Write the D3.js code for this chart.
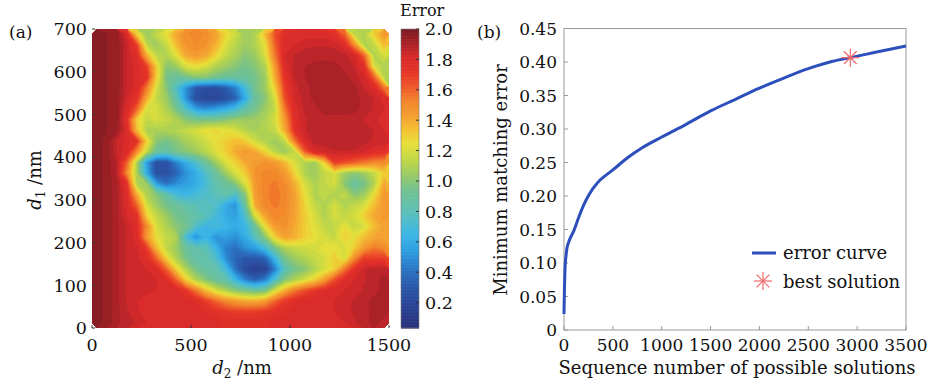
<!DOCTYPE html>
<html><head><meta charset="utf-8">
<script src="https://cdn.jsdelivr.net/npm/d3@7/dist/d3.min.js"></script>
<style>
body{margin:0;background:#fff}
svg{display:block}
text{font-family:"DejaVu Serif",serif;fill:#111}
</style>
</head><body>
<svg id="c" width="931" height="386"></svg>
<script>
// ---------- DATA ----------
// Panel (a): error map, rows from d1 = 687.5 nm (top) down to 12.5 nm (bottom),
// columns d2 = 25, 75, ..., 1475 nm (50 nm bins)
const d2Range = [0, 1500];
const d1Range = [0, 700];
const d2Ticks = [0, 500, 1000, 1500];
const d1Ticks = [0, 100, 200, 300, 400, 500, 600, 700];
const colorTicks = [0.2, 0.4, 0.6, 0.8, 1.0, 1.2, 1.4, 1.6, 1.8, 2.0];
const colorRange = [0.033, 2.0];
const errorGrid = [
[1.97,1.96,1.95,1.80,1.30,1.05,1.15,1.25,1.40,1.50, 1.52,1.50,1.42,1.28,1.18,1.05,1.10,1.35,1.65,1.78, 1.80,1.80,1.80,1.80,1.75,1.60,1.15,1.10,1.30,1.45],
[1.97,1.96,1.95,1.85,1.70,1.15,1.05,1.15,1.35,1.47, 1.50,1.47,1.38,1.22,1.12,1.05,1.10,1.25,1.60,1.80, 1.82,1.84,1.85,1.85,1.84,1.78,1.50,1.10,1.15,1.35],
[1.97,1.96,1.95,1.85,1.78,1.40,1.15,1.10,1.22,1.40, 1.45,1.40,1.28,1.15,1.08,1.00,1.05,1.20,1.55,1.82, 1.86,1.88,1.88,1.88,1.88,1.87,1.82,1.60,1.10,1.20],
[1.97,1.96,1.95,1.85,1.80,1.70,1.30,1.00,1.05,1.20, 1.25,1.20,1.10,1.05,1.00,0.95,1.00,1.10,1.45,1.80, 1.87,1.89,1.90,1.90,1.90,1.88,1.85,1.75,1.20,1.10],
[1.97,1.96,1.95,1.85,1.80,1.75,1.30,0.95,0.90,0.95, 1.00,1.00,0.95,0.90,0.90,0.90,0.95,1.05,1.40,1.75, 1.86,1.89,1.90,1.90,1.90,1.90,1.87,1.82,1.60,1.10],
[1.97,1.96,1.95,1.85,1.80,1.55,1.20,1.00,0.75,0.50, 0.30,0.25,0.25,0.32,0.45,0.70,0.95,1.05,1.30,1.70, 1.84,1.88,1.90,1.90,1.90,1.90,1.90,1.85,1.80,1.55],
[1.97,1.96,1.95,1.83,1.75,1.40,1.15,1.05,0.85,0.50, 0.25,0.20,0.20,0.25,0.35,0.60,0.90,1.00,1.20,1.65, 1.82,1.87,1.90,1.90,1.90,1.90,1.90,1.88,1.85,1.80],
[1.97,1.96,1.95,1.80,1.60,1.20,1.20,1.10,0.95,0.75, 0.55,0.50,0.55,0.60,0.70,0.85,0.95,1.05,1.15,1.55, 1.80,1.86,1.88,1.90,1.90,1.90,1.90,1.88,1.85,1.82],
[1.97,1.96,1.95,1.75,1.30,1.15,1.20,1.15,1.10,1.00, 0.95,0.95,0.95,1.00,1.05,1.05,1.05,1.10,1.20,1.45, 1.78,1.85,1.87,1.88,1.88,1.88,1.87,1.85,1.83,1.80],
[1.97,1.96,1.93,1.80,1.35,1.10,1.08,1.10,1.12,1.15, 1.20,1.25,1.27,1.25,1.20,1.12,1.08,1.10,1.15,1.40, 1.75,1.85,1.88,1.88,1.88,1.88,1.88,1.88,1.85,1.82],
[1.97,1.95,1.85,1.80,1.75,1.30,1.00,0.95,1.00,1.08, 1.12,1.18,1.25,1.30,1.35,1.30,1.18,1.10,1.05,1.15, 1.55,1.80,1.87,1.88,1.88,1.88,1.88,1.87,1.85,1.85],
[1.97,1.95,1.85,1.80,1.50,1.15,0.90,0.85,0.95,1.00, 1.05,1.12,1.22,1.30,1.40,1.45,1.40,1.28,1.12,1.05, 1.15,1.60,1.80,1.83,1.85,1.85,1.85,1.82,1.78,1.75],
[1.97,1.95,1.88,1.60,1.10,0.55,0.25,0.25,0.45,0.60, 0.75,0.90,1.05,1.20,1.30,1.40,1.45,1.48,1.45,1.35, 1.20,1.10,1.05,1.30,1.70,1.65,1.60,1.55,1.50,1.50],
[1.97,1.95,1.88,1.50,1.10,0.60,0.25,0.28,0.35,0.50, 0.60,0.75,0.90,1.05,1.20,1.30,1.48,1.52,1.52,1.45, 1.28,1.10,1.05,1.15,1.20,1.05,1.00,1.05,1.15,1.30],
[1.97,1.95,1.90,1.75,1.10,1.05,0.55,0.40,0.50,0.55, 0.60,0.70,0.85,0.90,1.00,1.20,1.45,1.53,1.55,1.50, 1.38,1.20,1.10,1.15,1.20,1.00,0.90,0.95,1.10,1.40],
[1.97,1.95,1.90,1.78,1.40,1.10,1.00,0.85,0.70,0.65, 0.70,0.75,0.80,0.85,0.75,1.00,1.45,1.53,1.56,1.52, 1.42,1.25,1.10,1.15,1.10,1.15,1.00,1.05,1.25,1.45],
[1.97,1.95,1.90,1.80,1.60,1.20,1.05,0.95,0.90,0.85, 0.80,0.80,0.75,0.60,0.50,0.90,1.40,1.52,1.55,1.52, 1.42,1.28,1.15,1.10,1.20,1.10,1.15,1.20,1.35,1.45],
[1.97,1.95,1.90,1.82,1.75,1.30,1.15,1.05,0.95,0.90, 0.85,0.80,0.70,0.60,0.55,0.75,1.20,1.42,1.52,1.50, 1.42,1.30,1.20,1.10,1.20,1.15,1.20,1.30,1.40,1.45],
[1.97,1.95,1.90,1.85,1.78,1.50,1.20,1.10,1.00,0.95, 0.75,0.65,0.70,0.65,0.60,0.65,0.90,1.25,1.45,1.48, 1.40,1.30,1.22,1.15,1.15,1.25,1.15,1.20,1.35,1.42],
[1.97,1.95,1.90,1.85,1.80,1.45,1.25,1.15,1.10,0.70, 0.50,0.65,0.50,0.55,0.50,0.60,0.80,1.00,1.30,1.42, 1.38,1.30,1.25,1.20,1.15,1.30,1.25,1.35,1.40,1.42],
[1.97,1.95,1.90,1.85,1.82,1.70,1.35,1.15,1.05,0.90, 0.85,0.80,0.65,0.45,0.40,0.50,0.55,0.70,0.95,1.10, 1.15,1.18,1.20,1.25,1.25,1.20,1.30,1.45,1.55,1.50],
[1.97,1.95,1.90,1.85,1.83,1.78,1.60,1.30,1.10,0.95, 0.85,0.85,0.75,0.50,0.35,0.30,0.30,0.35,0.65,0.95, 1.05,1.10,1.15,1.20,1.30,1.20,1.50,1.70,1.70,1.70],
[1.97,1.95,1.90,1.85,1.84,1.82,1.78,1.60,1.30,1.10, 0.95,0.88,0.85,0.70,0.40,0.22,0.15,0.18,0.45,0.80, 0.95,1.00,1.10,1.20,1.30,1.55,1.75,1.85,1.87,1.88],
[1.97,1.95,1.90,1.85,1.84,1.83,1.82,1.78,1.60,1.30, 1.10,1.00,0.90,0.85,0.65,0.45,0.35,0.45,0.75,1.00, 1.10,1.20,1.30,1.45,1.65,1.78,1.82,1.85,1.88,1.90],
[1.97,1.95,1.90,1.85,1.83,1.83,1.82,1.82,1.80,1.72, 1.55,1.35,1.20,1.10,1.00,0.95,0.90,0.95,1.20,1.40, 1.55,1.65,1.72,1.78,1.80,1.82,1.84,1.86,1.88,1.90],
[1.97,1.95,1.90,1.85,1.82,1.80,1.80,1.80,1.80,1.80, 1.78,1.70,1.60,1.50,1.45,1.40,1.40,1.45,1.60,1.72, 1.78,1.80,1.80,1.80,1.82,1.84,1.86,1.88,1.90,1.90],
[1.97,1.95,1.90,1.86,1.83,1.80,1.80,1.80,1.80,1.80, 1.80,1.78,1.75,1.72,1.70,1.70,1.70,1.72,1.75,1.78, 1.80,1.80,1.80,1.80,1.82,1.84,1.86,1.88,1.90,1.90],
[1.97,1.95,1.90,1.87,1.85,1.82,1.80,1.80,1.80,1.80, 1.80,1.80,1.80,1.78,1.78,1.78,1.78,1.78,1.80,1.80, 1.80,1.80,1.80,1.80,1.80,1.82,1.85,1.88,1.90,1.88]
];

// Panel (b): minimum matching error vs sequence number
const seqNumber = [0, 5, 10, 20, 30, 50, 100, 150, 200, 260, 350, 420, 500, 650, 800, 1000, 1250, 1500, 1750, 2000, 2250, 2500, 2750, 2930, 3200, 3500];
const minError  = [0.024, 0.065, 0.09, 0.11, 0.122, 0.132, 0.148, 0.168, 0.186, 0.203, 0.221, 0.23, 0.239, 0.257, 0.272, 0.288, 0.307, 0.327, 0.344, 0.361, 0.376, 0.390, 0.401, 0.4065, 0.415, 0.424];
const bestSolution = {seq: 2930, err: 0.4065};
const seqTicks = [0, 500, 1000, 1500, 2000, 2500, 3000, 3500];
const errTicks = [0, 0.05, 0.10, 0.15, 0.20, 0.25, 0.30, 0.35, 0.40, 0.45];
const errTickLabels = ["0", "0.05", "0.10", "0.15", "0.20", "0.25", "0.30", "0.35", "0.40", "0.45"];

// ---------- COLOUR MAP ----------
const cmapStops  = [0.033, 0.18, 0.32, 0.45, 0.55, 0.65, 0.8, 0.95, 1.05, 1.15, 1.25, 1.35, 1.42, 1.52, 1.62, 1.72, 1.82, 1.9, 2.0];
const cmapColors = ["#2a2f78","#2b4496","#2b5aab","#2b7fcb","#2fa0e0","#3cb6e6","#5cc0b8","#74c28e","#9ccb62","#c3d845","#e8e03a","#f4bd32","#f4a232","#f2882c","#ee5a2a","#e63428","#d82a2a","#ae2328","#7a1c22"];
const cmap = d3.scaleLinear().domain(cmapStops).range(cmapColors).interpolate(d3.interpolateRgb).clamp(true);

const svg = d3.select("#c");

// ---------- PANEL (a) ----------
const xH = d3.scaleLinear().domain(d2Range).range([92, 389]);
const yH = d3.scaleLinear().domain(d1Range).range([328, 29]);
const nx = errorGrid[0].length, ny = errorGrid.length;
const step = 0.035;
const thresholds = d3.range(0, 2.0, step);
const contours = d3.contours().size([nx, ny]).thresholds(thresholds)(errorGrid.flat());
const proj = d3.geoTransform({point(x, y){
  this.stream.point(xH(d2Range[0] + x * (d2Range[1]-d2Range[0]) / nx),
                    yH(d1Range[1] - y * (d1Range[1]-d1Range[0]) / ny));
}});
const gpath = d3.geoPath(proj);
svg.append("clipPath").attr("id","clipA").append("rect")
  .attr("x",92).attr("y",29).attr("width",297).attr("height",299);
const gA = svg.append("g").attr("clip-path","url(#clipA)");
gA.selectAll("path").data(contours).join("path")
  .attr("d", gpath)
  .attr("fill", d => cmap(d.value + step/2))
  .attr("stroke", d => cmap(d.value + step/2))
  .attr("stroke-width", 0.6);

// axes ticks (inside)
const axA = svg.append("g");
axA.selectAll(".ty").data(d1Ticks).join("line")
  .attr("x1",92).attr("x2",95).attr("y1",d=>yH(d)).attr("y2",d=>yH(d)).attr("stroke","#333");
axA.selectAll(".tx").data(d2Ticks).join("line")
  .attr("y1",328).attr("y2",325).attr("x1",d=>xH(d)).attr("x2",d=>xH(d)).attr("stroke","#333");
axA.selectAll(".ly").data(d1Ticks).join("text")
  .attr("x",87).attr("y",d=>yH(d)).attr("dy","0.36em").attr("text-anchor","end")
  .style("font-size","17.5px").text(d=>d);
axA.selectAll(".lx").data(d2Ticks).join("text")
  .attr("x",d=>xH(d)).attr("y",351).attr("text-anchor","middle")
  .style("font-size","17.5px").text(d=>d);

// axis labels
const xl = svg.append("text").attr("x",242).attr("y",374).attr("text-anchor","middle").style("font-size","18px");
xl.append("tspan").style("font-style","italic").text("d");
xl.append("tspan").attr("dy",4).style("font-size","12px").text("2");
xl.append("tspan").attr("dy",-4).text(" /nm");
const yl = svg.append("text").attr("transform","translate(41,180) rotate(-90)").attr("text-anchor","middle").style("font-size","18px");
yl.append("tspan").style("font-style","italic").text("d");
yl.append("tspan").attr("dy",4).style("font-size","12px").text("1");
yl.append("tspan").attr("dy",-4).text(" /nm");

svg.append("text").attr("x",9).attr("y",38).style("font-size","17px").text("(a)");

// colour bar
const yC = d3.scaleLinear().domain(colorRange).range([328, 29]);
const cbVals = d3.range(colorRange[0], colorRange[1], 0.005);
svg.append("g").selectAll("rect").data(cbVals).join("rect")
  .attr("x",401).attr("width",18)
  .attr("y", d => yC(Math.min(d+0.005, colorRange[1])))
  .attr("height", d => yC(d) - yC(Math.min(d+0.005, colorRange[1])) + 0.6)
  .attr("fill", d => cmap(d + 0.0025));
svg.append("rect").attr("x",401).attr("y",29).attr("width",18).attr("height",299)
  .attr("fill","none").attr("stroke","#777").attr("stroke-width",0.6);
svg.append("g").selectAll("line").data(colorTicks).join("line")
  .attr("x1",416).attr("x2",419).attr("y1",d=>yC(d)).attr("y2",d=>yC(d)).attr("stroke","#333");
svg.append("g").selectAll("text").data(colorTicks).join("text")
  .attr("x",425).attr("y",d=>yC(d)).attr("dy","0.36em").style("font-size","17.5px")
  .text(d=>d.toFixed(1));
svg.append("text").attr("x",400).attr("y",16).style("font-size","16px").text("Error");

// ---------- PANEL (b) ----------
const xS = d3.scaleLinear().domain([0, 3500]).range([564, 906]);
const yS = d3.scaleLinear().domain([0, 0.45]).range([330, 28.5]);
svg.append("rect").attr("x",564).attr("y",28.5).attr("width",342).attr("height",301.5)
  .attr("fill","none").attr("stroke","#9a9a9a").attr("stroke-width",1);
svg.append("g").selectAll("line").data(seqTicks).join("line")
  .attr("x1",d=>xS(d)).attr("x2",d=>xS(d)).attr("y1",330).attr("y2",326).attr("stroke","#9a9a9a");
svg.append("g").selectAll("line").data(errTicks).join("line")
  .attr("x1",564).attr("x2",568).attr("y1",d=>yS(d)).attr("y2",d=>yS(d)).attr("stroke","#9a9a9a");
svg.append("g").selectAll("text").data(seqTicks).join("text")
  .attr("x",d=>xS(d)).attr("y",351).attr("text-anchor","middle").style("font-size","17px").text(d=>d);
svg.append("g").selectAll("text").data(errTicks).join("text")
  .attr("x",557).attr("y",d=>yS(d)).attr("dy","0.36em").attr("text-anchor","end")
  .style("font-size","17px").text((d,i)=>errTickLabels[i]);

svg.append("text").attr("x",737).attr("y",374).attr("text-anchor","middle").style("font-size","18px")
  .text("Sequence number of possible solutions");
svg.append("text").attr("transform","translate(507,180) rotate(-90)").attr("text-anchor","middle")
  .style("font-size","18px").text("Minimum matching error");
svg.append("text").attr("x",477).attr("y",38).style("font-size","17px").text("(b)");

const line = d3.line().x((d,i)=>xS(seqNumber[i])).y(d=>yS(d)).curve(d3.curveMonotoneX);
svg.append("path").datum(minError).attr("d",line).attr("fill","none")
  .attr("stroke","#2c4fbc").attr("stroke-width",3).attr("stroke-linejoin","round");

function star(g, cx, cy, r){
  const a = [0, Math.PI/4, Math.PI/2, 3*Math.PI/4];
  g.selectAll(null).data(a).join("line")
    .attr("x1",d=>cx - r*Math.cos(d)).attr("y1",d=>cy - r*Math.sin(d))
    .attr("x2",d=>cx + r*Math.cos(d)).attr("y2",d=>cy + r*Math.sin(d))
    .attr("stroke","#f26868").attr("stroke-width",1.2);
}
star(svg.append("g"), xS(bestSolution.seq), yS(bestSolution.err), 9);

// legend
svg.append("line").attr("x1",752).attr("x2",776).attr("y1",253).attr("y2",253)
  .attr("stroke","#2c4fbc").attr("stroke-width",3);
svg.append("text").attr("x",783).attr("y",253).attr("dy","0.34em").style("font-size","18px").text("error curve");
star(svg.append("g"), 763, 281, 9);
svg.append("text").attr("x",783).attr("y",282).attr("dy","0.34em").style("font-size","18px").text("best solution");
</script>
</body></html>
